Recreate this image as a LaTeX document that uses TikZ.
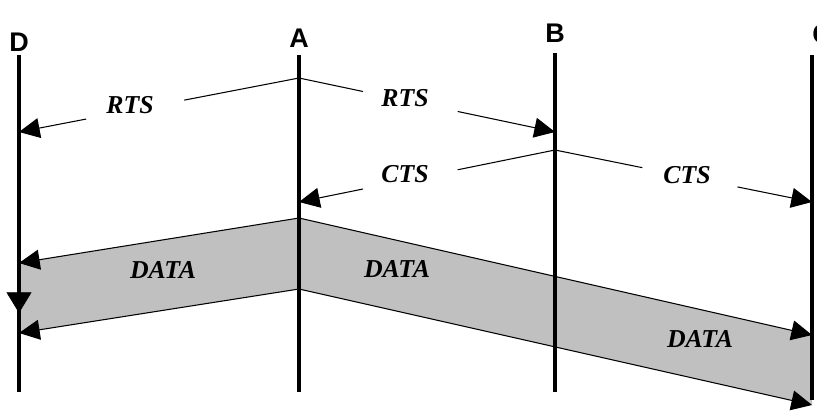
\documentclass[tikz,border=0pt]{standalone}
\usepackage{fontspec}
\setmainfont{Liberation Serif}
\newfontfamily\stafont{Liberation Sans}
\usetikzlibrary{arrows.meta}
\definecolor{mband}{RGB}{192,192,192}
\tikzset{
  mline/.style={line width=3pt},
  mmsg/.style={line width=0.9pt},
  marr/.style={-{Triangle[length=0.62cm, width=0.6cm]}},
  mlbl/.style={font=\fontsize{22}{25}\selectfont\bfseries\itshape, inner sep=0pt},
  msta/.style={font=\stafont\fontsize{23}{25}\selectfont\bfseries, inner sep=0pt}
}

\begin{document}
\begin{tikzpicture}[x=0.03cm, y=-0.03cm]
  \useasboundingbox (0,0) rectangle (817,412);
  % station names and time lines
  \node[msta] (d) at (19,42) {D};
  \node[msta] (a) at (299,38) {A};
  \node[msta] (b) at (555,33) {B};
  \node[msta] (c) at (822,34) {C};
  \coordinate (dT) at (19,55);  \coordinate (dB) at (19,392);
  \coordinate (aT) at (299,55); \coordinate (aB) at (299,392);
  \coordinate (bT) at (555,53); \coordinate (bB) at (555,392);
  \coordinate (cT) at (812,55); \coordinate (cB) at (812,400);
  % data band
  \coordinate (aD1) at (299,218); \coordinate (aD2) at (299,289);
  \coordinate (dD1) at (19,263);  \coordinate (dD2) at (19,333);
  \coordinate (cD1) at (812,335); \coordinate (cD2) at (812,405);
  \fill[mband] (dD1) -- (aD1) -- (cD1) -- (cD2) -- (aD2) -- (dD2) -- cycle;
  \draw[mmsg, marr] (aD1) -- (dD1);
  \draw[mmsg, marr] (aD2) -- (dD2);
  \draw[mmsg, marr] (aD1) -- (cD1);
  \draw[mmsg, marr] (aD2) -- (cD2);
  \node[mlbl] (data1) at (163,270) {DATA};
  \node[mlbl] (data2) at (397,269) {DATA};
  \node[mlbl] (data3) at (700,339) {DATA};
  \draw[mline] (dT) -- (dB) (aT) -- (aB) (bT) -- (bB) (cT) -- (cB);
  \coordinate (dW) at (19,290); \coordinate (dV) at (19,313);
  \draw[-{Triangle[length=0.62cm, width=0.75cm]}] (dW) -- (dV);
  % rts
  \coordinate (aR) at (299,78); \coordinate (dR) at (19,132); \coordinate (bR) at (555,132);
  \path (aR) -- coordinate[pos=.41] (r1e) coordinate[pos=.76] (r1w) (dR);
  \path (aR) -- coordinate[pos=.25] (r2w) coordinate[pos=.62] (r2e) (bR);
  \draw[mmsg] (aR) -- (r1e);
  \draw[mmsg, marr] (r1w) -- (dR);
  \draw[mmsg] (aR) -- (r2w);
  \draw[mmsg, marr] (r2e) -- (bR);
  \node[mlbl] (rts1) at (130,105) {RTS};
  \node[mlbl] (rts2) at (405,98) {RTS};
  % cts
  \coordinate (bC) at (555,150); \coordinate (aC) at (299,202); \coordinate (cC) at (812,202);
  \path (bC) -- coordinate[pos=.38] (c1e) coordinate[pos=.75] (c1w) (aC);
  \path (bC) -- coordinate[pos=.34] (c2w) coordinate[pos=.71] (c2e) (cC);
  \draw[mmsg] (bC) -- (c1e);
  \draw[mmsg, marr] (c1w) -- (aC);
  \draw[mmsg] (bC) -- (c2w);
  \draw[mmsg, marr] (c2e) -- (cC);
  \node[mlbl] (cts1) at (405,174) {CTS};
  \node[mlbl] (cts2) at (687,175) {CTS};
\end{tikzpicture}
\end{document}
